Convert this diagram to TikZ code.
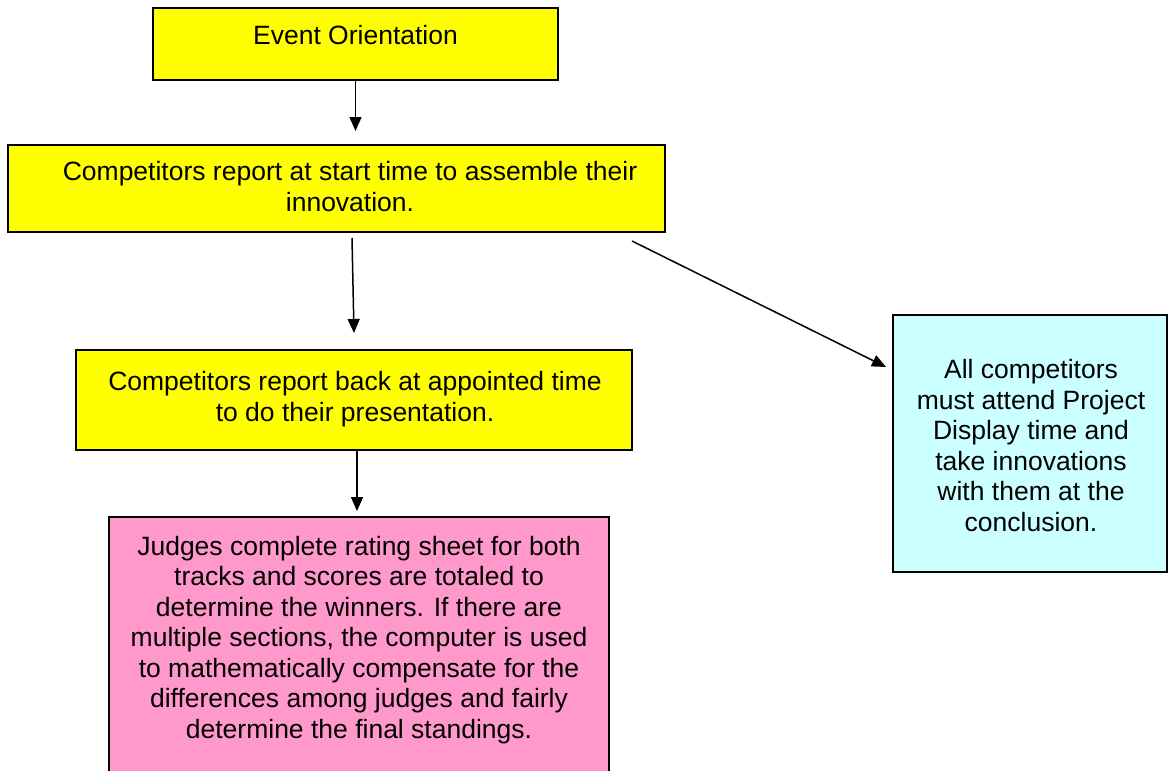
\documentclass[tikz,border=0pt]{standalone}
\usepackage{fontspec}
\setmainfont{Liberation Sans}
\usetikzlibrary{arrows.meta,fit}
\definecolor{boxyellow}{HTML}{FFFF00}
\definecolor{boxpink}{HTML}{FF99CC}
\definecolor{boxcyan}{HTML}{CCFFFF}
\begin{document}
\begin{tikzpicture}[x=1pt,y=-1pt,
  box/.style={draw=black, line width=1.5pt, inner sep=0pt},
  txt/.style={anchor=base, align=center, font=\fontsize{26.5}{30.5}\selectfont, inner sep=0pt},
  arr/.style={line width=1.5pt, -{Triangle[length=14pt,width=12pt]}}]
\useasboundingbox (0,0) rectangle (1168,771);
% boxes
\node[box, fill=boxyellow, fit={(153,8)(558,80)}] (b1) {};
\node[box, fill=boxyellow, fit={(8,145)(665,232)}] (b2) {};
\node[box, fill=boxyellow, fit={(76,350)(632,450)}] (b3) {};
\node[box, fill=boxpink, fit={(109,517)(609,800)}] (b4) {};
\node[box, fill=boxcyan, fit={(893,315)(1167,572)}] (b5) {};
% texts (base anchor = baseline of the last line)
\node[txt] (t1) at (355.5,44) {Event Orientation};
\node[txt] (t2) at (350,211) {Competitors report at start time to assemble their\\innovation.};
\node[txt] (t3) at (355,421) {Competitors report back at appointed time\\to do their presentation.};
\node[txt] (t4) at (359,738) {Judges complete rating sheet for both\\tracks and scores are totaled to\\determine the winners. If there are\\multiple sections, the computer is used\\to mathematically compensate for the\\differences among judges and fairly\\determine the final standings.};
\node[txt] (t5) at (1031,531) {All competitors\\must attend Project\\Display time and\\take innovations\\with them at the\\conclusion.};
% connector ends
\coordinate (e1) at (355.5,131);
\coordinate (s2) at (352,238);
\coordinate (e2) at (354,333);
\coordinate (s3) at (632,241);
\coordinate (e3) at (886,367);
\coordinate (s4) at (357,451);
\coordinate (e4) at (357,511);
\draw[arr] (b1.south) -- (e1);
\draw[arr] (s2) -- (e2);
\draw[arr] (s3) -- (e3);
\draw[arr] (s4) -- (e4);
\end{tikzpicture}
\end{document}
